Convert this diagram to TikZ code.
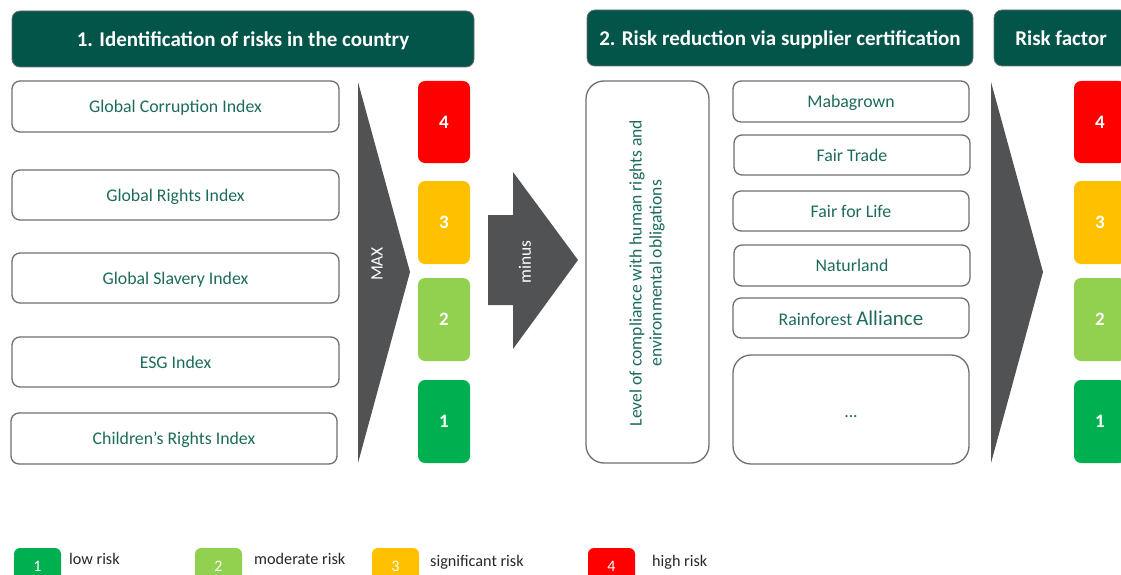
\documentclass[tikz,border=0pt]{standalone}
\usepackage{fontspec}
\setmainfont{Carlito}
\usetikzlibrary{calc}
\definecolor{headgreen}{HTML}{03554A}
\definecolor{textgreen}{HTML}{1C6B5B}
\definecolor{arrowgray}{HTML}{505254}
\definecolor{framegray}{HTML}{6E6E6E}
\definecolor{riskred}{HTML}{FF0000}
\definecolor{riskyellow}{HTML}{FFC000}
\definecolor{risklight}{HTML}{92D050}
\definecolor{riskgreen}{HTML}{00B050}
\tikzset{
	header/.style={rounded corners=8pt, fill=headgreen, draw=framegray, line width=0.8pt, text=white, font=\bfseries\fontsize{21}{24}\selectfont, inner sep=0pt, text depth=0pt},
	indexbox/.style={rounded corners=8pt, draw=framegray, line width=1.3pt, text=textgreen, font=\fontsize{17.8}{20}\selectfont, inner sep=0pt, text depth=0pt},
	bigbox/.style={indexbox, rounded corners=18pt},
	riskbox/.style={rounded corners=7pt, text=white, font=\bfseries\fontsize{19}{21}\selectfont, inner sep=0pt, minimum width=52, minimum height=83},
	legendbox/.style={rounded corners=6pt, text=white, font=\fontsize{16}{18}\selectfont, inner sep=0pt, minimum width=47, minimum height=36},
	legendtext/.style={anchor=west, text=black!85, font=\fontsize{16.2}{18}\selectfont, inner sep=0pt},
	arrowtext/.style={rotate=90, text=white, font=\fontsize{17.4}{20}\selectfont, inner sep=0pt}
}
\begin{document}
\begin{tikzpicture}[x=1pt, y=-1pt]
			%%%%% START %%%%%
			
			\useasboundingbox (0, 0) rectangle (1121, 575);
			\clip (0, 0) rectangle (1121, 575);
			
			\node[header, minimum width=462, minimum height=56] (headcountry) at (243, 39) {1. Identification of risks in the country};
			\node[header, minimum width=386, minimum height=56] (headcert) at (780, 38) {2. Risk reduction via supplier certification};
			\node[header, minimum width=134, minimum height=56] (headfactor) at (1061, 38) {Risk factor};
			
			\node[indexbox, minimum width=327, minimum height=51] (gci) at (175.5, 106.5) {Global Corruption Index};
			\node[indexbox, minimum width=327, minimum height=50] (gri) at (175.5, 195) {Global Rights Index};
			\node[indexbox, minimum width=327, minimum height=50] (gsi) at (175.5, 278) {Global Slavery Index};
			\node[indexbox, minimum width=327, minimum height=50] (esg) at (175.5, 362) {ESG Index};
			\node[indexbox, minimum width=326, minimum height=51] (cri) at (174, 438.5) {Children’s Rights Index};
			
			\fill[arrowgray] (358, 82) -- (410, 272) -- (358, 463) -- cycle;
			\node[arrowtext] (max) at (377, 264) {MAX};
			
			\node[riskbox, fill=riskred, minimum height=82] (lfour) at (444, 122) {4};
			\node[riskbox, fill=riskyellow] (lthree) at (444, 222.5) {3};
			\node[riskbox, fill=risklight] (ltwo) at (444, 319.5) {2};
			\node[riskbox, fill=riskgreen] (lone) at (444, 421.5) {1};
			
			\fill[arrowgray] (488, 215) -- (513, 215) -- (513, 172) -- (578, 260) -- (513, 349) -- (513, 305) -- (488, 305) -- cycle;
			\node[arrowtext] (minus) at (525, 262) {minus};
			
			\node[bigbox, minimum width=123, minimum height=382] (compliance) at (647.5, 272) {};
			\node[rotate=90, align=center, text=textgreen, font=\fontsize{17.6}{20}\selectfont, inner sep=0pt] (compliancetext) at (647, 273) {Level of compliance with human rights and\\environmental obligations};
			
			\node[indexbox, minimum width=236, minimum height=41] (mabagrown) at (851, 101.5) {Mabagrown};
			\node[indexbox, minimum width=236, minimum height=40] (fairtrade) at (852, 155) {Fair Trade};
			\node[indexbox, minimum width=236, minimum height=40] (fairlife) at (851, 211) {Fair for Life};
			\node[indexbox, minimum width=236, minimum height=41] (naturland) at (852, 265.5) {Naturland};
			\node[indexbox, minimum width=236, minimum height=40] (rainforest) at (851, 318) {Rainforest {\fontsize{21}{23}\selectfont Alliance}};
			\node[bigbox, minimum width=236, minimum height=109, text height=16pt] (more) at (851, 409.5) {...};
			
			\fill[arrowgray] (991, 82) -- (1043, 272) -- (991, 463) -- cycle;
			
			\node[riskbox, fill=riskred, minimum height=82] (rfour) at (1100, 122) {4};
			\node[riskbox, fill=riskyellow] (rthree) at (1100, 222.5) {3};
			\node[riskbox, fill=risklight] (rtwo) at (1100, 319.5) {2};
			\node[riskbox, fill=riskgreen] (rone) at (1100, 421.5) {1};
			
			\node[legendbox, fill=riskgreen] (legone) at (37.5, 566) {1};
			\node[legendtext] (lowrisk) at (69, 559) {low risk};
			\node[legendbox, fill=risklight] (legtwo) at (218.5, 566) {2};
			\node[legendtext] (modrisk) at (254, 559) {moderate risk};
			\node[legendbox, fill=riskyellow] (legthree) at (395.5, 566) {3};
			\node[legendtext] (sigrisk) at (430, 562) {significant risk};
			\node[legendbox, fill=riskred] (legfour) at (611.5, 566) {4};
			\node[legendtext] (highrisk) at (652, 562) {high risk};
			
			%%%%% END %%%%%
		\end{tikzpicture}
\end{document}
